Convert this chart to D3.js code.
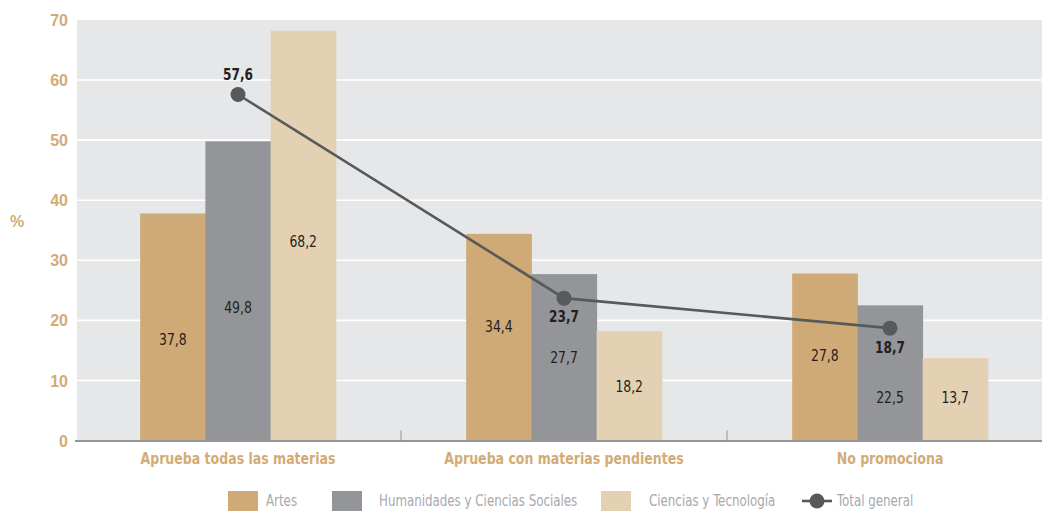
<!DOCTYPE html>
<html><head><meta charset="utf-8">
<script src="https://cdn.jsdelivr.net/npm/d3@7"></script>
<style>
html,body{margin:0;padding:0;background:#fff;overflow:hidden}
svg{display:block}
</style></head>
<body>
<svg id="chart" width="1042" height="511"></svg>
<script>
// ---- data ----
const categories = ["Aprueba todas las materias", "Aprueba con materias pendientes", "No promociona"];
const seriesNames = ["Artes", "Humanidades y Ciencias Sociales", "Ciencias y Tecnología"];
const artes = [37.8, 34.4, 27.8];
const humanidades = [49.8, 27.7, 22.5];
const ciencias = [68.2, 18.2, 13.7];
const totalGeneral = [57.6, 23.7, 18.7];
const lineName = "Total general";
const yTicks = [0, 10, 20, 30, 40, 50, 60, 70];

// ---- drawing ----
const series = [artes, humanidades, ciencias];
const colors = ["#cfa976", "#939598", "#e4d0b2"];
const tan = "#d3ab75";
const lineColor = "#58595b";
const fontNarrow = "'DejaVu Sans Condensed','Liberation Sans Narrow','Arial Narrow',sans-serif";
const fmt = v => d3.format(".1f")(v).replace(".", ",");

// place a text with horizontal condensing
function place(sel, fx, fy, sx) {
  sel.attr("transform", (d, i) => `translate(${fx(d, i)},${fy(d, i)}) scale(${sx},1)`);
  return sel;
}

const svg = d3.select("#chart");
const plot = {left: 75, right: 1053, top: 20, bottom: 440.5};

const x0 = d3.scaleBand().domain(categories).range([plot.left, plot.right])
  .paddingInner(0.4).paddingOuter(0.2);
const x1 = d3.scaleBand().domain(d3.range(series.length)).range([0, x0.bandwidth()]);
const y = d3.scaleLinear().domain([0, 70]).range([plot.bottom, plot.top]);

// background
svg.append("rect").attr("x", plot.left + 2).attr("y", plot.top)
  .attr("width", plot.right - plot.left).attr("height", plot.bottom - plot.top)
  .attr("fill", "#e6e7e9");

// gridlines
svg.append("g").selectAll("line").data(yTicks.filter(d => d > 0 && d < 70)).join("line")
  .attr("x1", plot.left + 2).attr("x2", plot.right)
  .attr("y1", d => y(d)).attr("y2", d => y(d))
  .attr("stroke", "#ffffff").attr("stroke-width", 1.6);

// y axis labels
const yAxis = d3.axisLeft(y).tickValues(yTicks).tickSize(0).tickPadding(0).tickFormat(d3.format("d"));
const gy = svg.append("g").attr("transform", `translate(${plot.left - 7},0)`).call(yAxis);
gy.select(".domain").remove();
gy.selectAll("text").attr("fill", tan).attr("font-family", "'Liberation Sans',Arial,sans-serif")
  .attr("font-weight", "bold").attr("font-size", 16).attr("dy", "0.35em");

svg.append("text").attr("x", 17).attr("y", y(36.5)).attr("dy", "0.35em")
  .attr("text-anchor", "middle").attr("fill", tan)
  .attr("font-family", "'Liberation Sans',Arial,sans-serif").attr("font-weight", "bold")
  .attr("font-size", 16).text("%");

// bars
const groups = svg.append("g").selectAll("g").data(categories).join("g")
  .attr("transform", d => `translate(${x0(d)},0)`);
groups.selectAll("rect").data((c, i) => series.map((s, k) => ({k, v: s[i]}))).join("rect")
  .attr("x", d => x1(d.k)).attr("width", x1.bandwidth() + 0.5)
  .attr("y", d => y(d.v)).attr("height", d => y(0) - y(d.v))
  .attr("fill", d => colors[d.k]);

// bar value labels (vertical nudges so they avoid the line labels, as in the original)
const labelShift = [[13, 17, 6], [-10, 0, 1], [-1, 25, -2]];
place(groups.selectAll("text").data((c, i) => series.map((s, k) => ({k, i, v: s[i]}))).join("text"),
    d => x1(d.k) + x1.bandwidth() / 2, d => y(d.v / 2) + labelShift[d.i][d.k], 0.92)
  .attr("dy", "0.35em").attr("text-anchor", "middle")
  .attr("font-family", fontNarrow).attr("font-size", 15).attr("fill", "#231f20")
  .text(d => fmt(d.v));

// baseline & ticks
svg.append("line").attr("x1", plot.left).attr("x2", plot.right)
  .attr("y1", y(0) + 0.5).attr("y2", y(0) + 0.5)
  .attr("stroke", "#939598").attr("stroke-width", 2);
const boundaries = categories.slice(1).map(c => x0(c) - x0.step() * x0.paddingInner() / 2);
svg.append("g").selectAll("line").data(boundaries).join("line")
  .attr("x1", d => d).attr("x2", d => d).attr("y1", y(0) - 10).attr("y2", y(0))
  .attr("stroke", "#939598").attr("stroke-width", 1);

// category labels
place(svg.append("g").selectAll("text").data(categories).join("text"),
    d => x0(d) + x0.bandwidth() / 2, () => 459, 0.9)
  .attr("dy", "0.35em")
  .attr("text-anchor", "middle").attr("fill", tan)
  .attr("font-family", fontNarrow).attr("font-weight", "bold").attr("font-size", 15.5)
  .text(d => d);

// total line
const cx = (d, i) => x0(categories[i]) + x0.bandwidth() / 2;
const line = d3.line().x((d, i) => cx(d, i)).y(d => y(d));
svg.append("path").datum(totalGeneral).attr("d", line)
  .attr("fill", "none").attr("stroke", lineColor).attr("stroke-width", 2.6);
svg.append("g").selectAll("circle").data(totalGeneral).join("circle")
  .attr("cx", cx).attr("cy", d => y(d)).attr("r", 7.5).attr("fill", lineColor);
const ptOffset = [-20, 19, 20];
place(svg.append("g").selectAll("text").data(totalGeneral).join("text"),
    cx, (d, i) => y(d) + ptOffset[i], 0.9)
  .attr("dy", "0.35em")
  .attr("text-anchor", "middle").attr("fill", "#231f20")
  .attr("font-family", fontNarrow).attr("font-weight", "bold").attr("font-size", 15)
  .text(d => fmt(d));

// legend
const legY = 501;
const legend = svg.append("g");
const legItems = [
  {sx: 228, tx: 266},
  {sx: 332, tx: 379},
  {sx: 601, tx: 649}
];
seriesNames.forEach((n, k) => {
  legend.append("rect").attr("x", legItems[k].sx).attr("y", legY - 10).attr("width", 30).attr("height", 20)
    .attr("fill", colors[k]);
  legend.append("text").attr("transform", `translate(${legItems[k].tx},${legY}) scale(0.85,1)`)
    .attr("dy", "0.35em")
    .attr("fill", "#a7a9ac").attr("font-family", fontNarrow).attr("font-size", 15.5).text(n);
});
legend.append("line").attr("x1", 802).attr("x2", 832).attr("y1", legY).attr("y2", legY)
  .attr("stroke", lineColor).attr("stroke-width", 2.6);
legend.append("circle").attr("cx", 817).attr("cy", legY).attr("r", 7.5).attr("fill", lineColor);
legend.append("text").attr("transform", `translate(837,${legY}) scale(0.85,1)`).attr("dy", "0.35em")
  .attr("fill", "#a7a9ac").attr("font-family", fontNarrow).attr("font-size", 15.5).text(lineName);
</script>
</body></html>
